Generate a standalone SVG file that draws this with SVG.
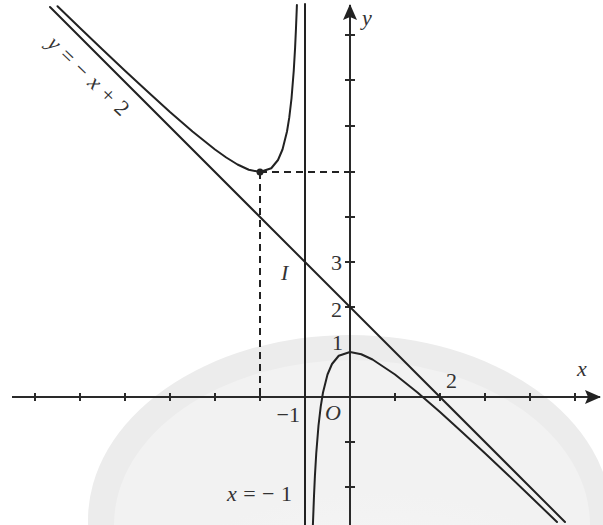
<svg xmlns="http://www.w3.org/2000/svg" width="603" height="525" viewBox="0 0 603 525">
<style>
.ax{stroke:#2a2a2a;stroke-width:2;fill:none}
.tk{stroke:#2a2a2a;stroke-width:2}
.cv{stroke:#222;stroke-width:2;fill:none;stroke-linejoin:round;stroke-linecap:round}
.ds{stroke:#222;stroke-width:2;stroke-dasharray:7,5;fill:none}
.lb{font-family:"Liberation Serif","Times New Roman",serif;font-size:22px;fill:#333}
.it{font-style:italic}
</style>
<defs>
<marker id="arr" viewBox="0 0 16 14" refX="15" refY="7" markerWidth="16" markerHeight="14" markerUnits="userSpaceOnUse" orient="auto">
<path d="M0,0 L16,7 L0,14 L3,7 Z" fill="#222"/>
</marker>
<radialGradient id="wm" cx="0.55" cy="1" r="0.6">
<stop offset="0" stop-color="#fbfbfb"/>
<stop offset="1" stop-color="#f2f2f2"/>
</radialGradient>
</defs>
<rect width="603" height="525" fill="#fff"/>
<g id="watermark">
<ellipse cx="350" cy="520" rx="262" ry="185" fill="#ececec"/>
<ellipse cx="352" cy="525" rx="238" ry="165" fill="url(#wm)"/>
</g>
<g id="axes">
<line class="ax" x1="12" y1="397" x2="600" y2="397" marker-end="url(#arr)"/>
<line class="ax" x1="350" y1="525" x2="350" y2="5" marker-end="url(#arr)"/>
<g class="tk">
<line x1="35" y1="393" x2="35" y2="401"/><line x1="80" y1="393" x2="80" y2="401"/><line x1="125" y1="393" x2="125" y2="401"/><line x1="170" y1="393" x2="170" y2="401"/><line x1="215" y1="393" x2="215" y2="401"/><line x1="260" y1="393" x2="260" y2="401"/>
<line x1="395" y1="393" x2="395" y2="401"/><line x1="440" y1="393" x2="440" y2="401"/><line x1="485" y1="393" x2="485" y2="401"/><line x1="530" y1="393" x2="530" y2="401"/><line x1="575" y1="393" x2="575" y2="401"/>
<line x1="345" y1="35" x2="355" y2="35"/><line x1="345" y1="80" x2="355" y2="80"/><line x1="345" y1="126" x2="355" y2="126"/><line x1="345" y1="172" x2="355" y2="172"/><line x1="345" y1="217" x2="355" y2="217"/><line x1="345" y1="262" x2="355" y2="262"/><line x1="345" y1="307" x2="355" y2="307"/>
<line x1="345" y1="442" x2="355" y2="442"/><line x1="345" y1="487" x2="355" y2="487"/>
</g>
</g>
<g id="connectors">
<line id="asym-v" class="cv" x1="305" y1="4" x2="305" y2="525"/>
<line id="asym-o" class="cv" x1="50" y1="7" x2="565" y2="522"/>
<polyline id="branch-left" class="cv" points="57.5,6.3 80,28 102.5,49.5 125,70.75 147.5,91.6 170,112 192.5,131.5 215,149.5 226.25,157.5 237.5,164.5 248.75,169.75 260,172 271.25,168.25 278,160 282.5,149.5 287,131.5 289.25,117.7 291.5,98.5 293.75,70.75 295.1,47.6 296,28 296.8,7.9 296.9,5"/>
<polyline id="branch-right" class="cv" points="312.9,525 314,496 314.9,476.4 316.25,453.25 318.5,425.5 320.75,406.3 323,392.5 327.5,374.5 332,364 338.75,355.75 350,352 361.25,354.25 372.5,359.5 395,374.5 417.5,392.5 440,412 462.5,432.4 485,453.25 507.5,474.5 530,496 557,522"/>
<line class="ds" x1="260" y1="172" x2="260" y2="397"/>
<line class="ds" x1="260" y1="172" x2="350" y2="172"/>
<circle cx="260" cy="172" r="3.5" fill="#222"/>
</g>
<g id="labels">
<text class="lb it" x="362" y="25">y</text>
<text class="lb it" x="577" y="376">x</text>
<text class="lb" x="446" y="388">2</text>
<text class="lb" x="342" y="270" text-anchor="end">3</text>
<text class="lb" x="342" y="317" text-anchor="end">2</text>
<text class="lb" x="343" y="350" text-anchor="end">1</text>
<text class="lb it" x="281" y="280">I</text>
<text class="lb" x="300" y="422" text-anchor="end">−1</text>
<text class="lb it" x="325" y="420">O</text>
<text class="lb" x="227" y="501" textLength="65" lengthAdjust="spacing"><tspan class="it">x</tspan>=−1</text>
<text class="lb" transform="translate(46,45) rotate(44)" textLength="104" lengthAdjust="spacing"><tspan class="it">y</tspan>=−<tspan class="it">x</tspan>+2</text>
</g>
</svg>
